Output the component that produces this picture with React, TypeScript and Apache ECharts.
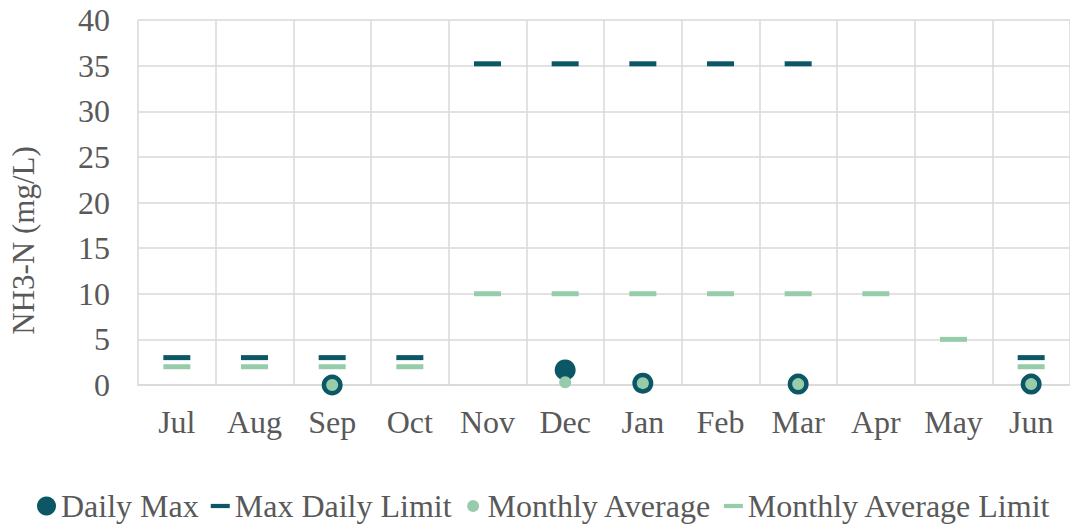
import React, { useEffect, useRef } from "react";
import * as echarts from "echarts";

const months = ["Jul", "Aug", "Sep", "Oct", "Nov", "Dec", "Jan", "Feb", "Mar", "Apr", "May", "Jun"];
const dailyMax = [null, null, 0, null, null, 1.65, 0.2, null, 0.1, null, null, 0.1];
const maxDailyLimit = [3, 3, 3, 3, 35.2, 35.2, 35.2, 35.2, 35.2, null, null, 3];
const monthlyAverage = [null, null, 0, null, null, 0.3, 0.2, null, 0.1, null, null, 0.1];
const monthlyAverageLimit = [2, 2, 2, 2, 10, 10, 10, 10, 10, 10, 5, 2];
const yTicks = { min: 0, max: 40, interval: 5 };

const DARK = "#0B5766";
const LIGHT = "#96CCAA";
const GRIDC = "#D9D9D9";
const TXT = "#595959";
const FONT = "'Liberation Serif', 'Times New Roman', serif";

export default function App() {
  const ref = useRef<HTMLDivElement>(null);
  useEffect(() => {
    document.body.style.margin = "0";
    const chart = echarts.init(ref.current!, undefined, { renderer: "svg" });
    const dash = "path://M0,0h18v4h-18z";
    const smallCircle = "path://M0,0M19,19M3.5,9.5a6,6 0 1,0 12,0a6,6 0 1,0 -12,0z";
    chart.setOption({
      animation: false,
      textStyle: { fontFamily: FONT },
      grid: { left: 135, top: 20, width: 936, height: 365 },
      legend: {
        left: 37,
        top: 490,
        padding: 0,
        itemWidth: 19,
        itemHeight: 19,
        itemGap: 12,
        textStyle: { fontSize: 32, color: TXT, fontFamily: FONT },
        data: [
          { name: "Daily Max", icon: "circle" },
          { name: "Max Daily Limit", icon: dash },
          { name: "Monthly Average", icon: smallCircle },
          { name: "Monthly Average Limit", icon: dash },
        ],
      },
      xAxis: {
        type: "category",
        data: months,
        boundaryGap: true,
        axisLine: { show: true, lineStyle: { color: GRIDC, width: 1.5 } },
        axisTick: { show: false },
        splitLine: { show: true, interval: 0, lineStyle: { color: GRIDC, width: 1.5 } },
        axisLabel: { fontSize: 32, color: TXT, fontFamily: FONT, margin: 21, interval: 0 },
      },
      yAxis: {
        type: "value",
        min: yTicks.min,
        max: yTicks.max,
        interval: yTicks.interval,
        name: "NH3-N (mg/L)",
        nameLocation: "middle",
        nameGap: 99,
        nameTextStyle: { fontSize: 31, color: TXT, fontFamily: FONT, padding: [0, 76, 0, 0] },
        axisLine: { show: false },
        axisTick: { show: false },
        splitLine: { show: true, lineStyle: { color: GRIDC, width: 1.5 } },
        axisLabel: { fontSize: 32, color: TXT, fontFamily: FONT, margin: 28 },
      },
      series: [
        {
          name: "Daily Max",
          type: "scatter",
          data: dailyMax,
          symbol: "circle",
          symbolSize: 21,
          itemStyle: { color: DARK, opacity: 1 },
        },
        {
          name: "Max Daily Limit",
          type: "scatter",
          data: maxDailyLimit,
          symbol: "rect",
          symbolSize: [27, 5],
          itemStyle: { color: DARK, opacity: 1 },
        },
        {
          name: "Monthly Average",
          type: "scatter",
          data: monthlyAverage,
          symbol: "circle",
          symbolSize: 12,
          itemStyle: { color: LIGHT, opacity: 1 },
        },
        {
          name: "Monthly Average Limit",
          type: "scatter",
          data: monthlyAverageLimit,
          symbol: "rect",
          symbolSize: [27, 5],
          itemStyle: { color: LIGHT, opacity: 1 },
        },
      ],
    });
    return () => chart.dispose();
  }, []);
  return <div ref={ref} style={{ width: 1070, height: 526 }} />;
}
